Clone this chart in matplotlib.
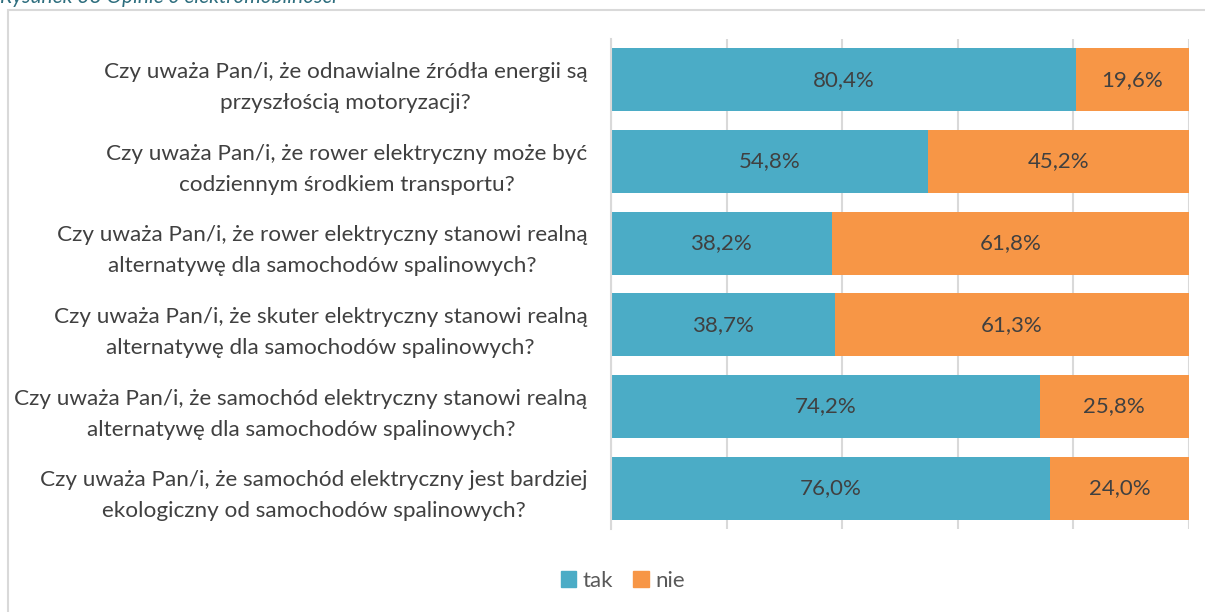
import matplotlib.pyplot as plt
from matplotlib.patches import Rectangle, Patch

# Survey answers, top to bottom as in the figure
questions = [
    'Czy uważa Pan/i, że odnawialne źródła energii są\nprzyszłością motoryzacji?',
    'Czy uważa Pan/i, że rower elektryczny może być\ncodziennym środkiem transportu?',
    'Czy uważa Pan/i, że rower elektryczny stanowi realną\nalternatywę dla samochodów spalinowych?',
    'Czy uważa Pan/i, że skuter elektryczny stanowi realną\nalternatywę dla samochodów spalinowych?',
    'Czy uważa Pan/i, że samochód elektryczny stanowi realną\nalternatywę dla samochodów spalinowych?',
    'Czy uważa Pan/i, że samochód elektryczny jest bardziej\nekologiczny od samochodów spalinowych?',
]
tak = [80.4, 54.8, 38.2, 38.7, 74.2, 76.0]
nie = [19.6, 45.2, 61.8, 61.3, 25.8, 24.0]
series_names = ['tak', 'nie']
colors = ['#4BACC6', '#F79646']

plt.rcParams['font.family'] = ['Lato', 'DejaVu Sans']

fig = plt.figure(figsize=(12.05, 6.12), dpi=100)
ax = fig.add_axes([0.507, 0.1356, 0.4796, 0.8006])

# outer chart frame
fig.patches.append(Rectangle((8 / 1205, -0.01), 1.0, 1 - 10 / 612 + 0.01,
                             transform=fig.transFigure, fill=False,
                             edgecolor='#D9D9D9', linewidth=1.5))
fig.text(0.0, 1 - 3 / 612, 'Rysunek 38 Opinie o elektromobilności',
         fontsize=15, style='italic', color='#2E6E7E', va='baseline', ha='left')

y = list(range(len(questions)))
ax.barh(y, tak, height=0.77, color=colors[0], zorder=2)
ax.barh(y, nie, left=tak, height=0.77, color=colors[1], zorder=2)

for i in y:
    ax.text(tak[i] / 2, i, f'{tak[i]:.1f}%'.replace('.', ','), ha='center', va='center',
            fontsize=16, color='#404040', zorder=3)
    ax.text(tak[i] + nie[i] / 2, i, f'{nie[i]:.1f}%'.replace('.', ','), ha='center', va='center',
            fontsize=16, color='#404040', zorder=3)

ax.set_xlim(0, 100)
ax.set_ylim(len(questions) - 0.5, -0.5)
ax.set_xticks([0, 20, 40, 60, 80, 100])
ax.xaxis.grid(True, color='#D9D9D9', linewidth=1.5, zorder=0)
ax.set_xticklabels([])
ax.tick_params(axis='both', length=0)
ax.set_yticks(y)
ax.set_yticklabels(questions, fontsize=16.2, color='#404040', multialignment='center',
                   linespacing=1.7)
ax.tick_params(axis='y', pad=17)
for s in ['top', 'right', 'bottom']:
    ax.spines[s].set_visible(False)
ax.spines['left'].set_color('#D9D9D9')
ax.spines['left'].set_linewidth(1.5)
ax.set_axisbelow(True)

handles = [Patch(color=c) for c in colors]
fig.legend(handles, series_names, loc='center', bbox_to_anchor=(0.517, 1 - 581 / 612),
           ncol=2, frameon=False, fontsize=16, handlelength=0.7, handleheight=0.7,
           handletextpad=0.3, columnspacing=0.9, labelcolor='#595959')

fig.savefig('out.png', dpi=100)
